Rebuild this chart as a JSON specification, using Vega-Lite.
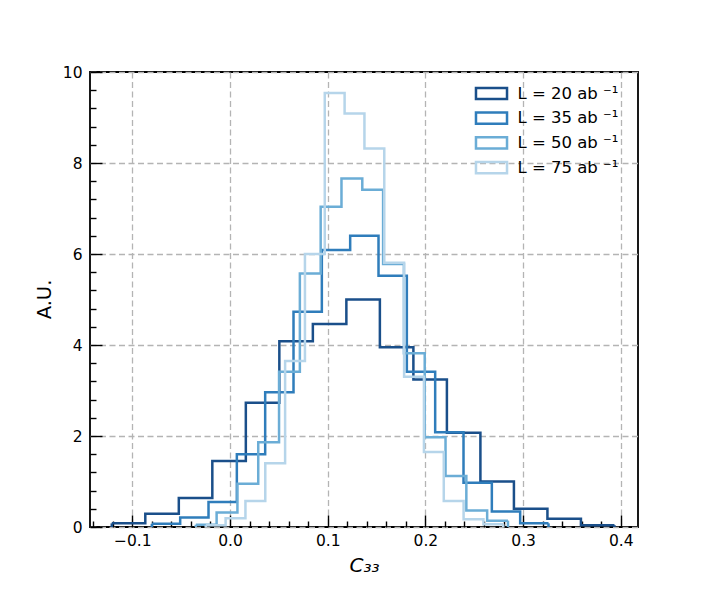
{
  "$schema": "https://vega.github.io/schema/vega-lite/v6.json",
  "width": 548,
  "height": 455,
  "autosize": {"type": "none"},
  "padding": {"left": 90, "top": 72, "right": 72, "bottom": 65},
  "config": {
    "font": "DejaVu Sans",
    "view": {"stroke": "black", "strokeWidth": 1.8},
    "axis": {
      "domain": false,
      "labelFont": "DejaVu Sans",
      "labelFontSize": 15.5,
      "labelColor": "black",
      "labelOverlap": false,
      "labelFlush": false,
      "tickColor": "black",
      "tickWidth": 1.4,
      "tickCount": 100,
      "gridColor": "#b4b4b4",
      "gridDash": [6, 3.5],
      "gridWidth": 1.3,
      "titleFont": "DejaVu Sans",
      "titleFontWeight": "normal",
      "titleColor": "black"
    }
  },
  "data": {
    "values": [
      {"L": "L = 20 ab ⁻¹", "start": -0.121, "end": -0.0867, "count": 0.08},
      {"L": "L = 20 ab ⁻¹", "start": -0.0867, "end": -0.0524, "count": 0.29},
      {"L": "L = 20 ab ⁻¹", "start": -0.0524, "end": -0.0181, "count": 0.64},
      {"L": "L = 20 ab ⁻¹", "start": -0.0181, "end": 0.0162, "count": 1.45},
      {"L": "L = 20 ab ⁻¹", "start": 0.0162, "end": 0.0505, "count": 2.73},
      {"L": "L = 20 ab ⁻¹", "start": 0.0505, "end": 0.0848, "count": 4.08},
      {"L": "L = 20 ab ⁻¹", "start": 0.0848, "end": 0.1191, "count": 4.46},
      {"L": "L = 20 ab ⁻¹", "start": 0.1191, "end": 0.1534, "count": 5.0},
      {"L": "L = 20 ab ⁻¹", "start": 0.1534, "end": 0.1877, "count": 3.95},
      {"L": "L = 20 ab ⁻¹", "start": 0.1877, "end": 0.222, "count": 3.24},
      {"L": "L = 20 ab ⁻¹", "start": 0.222, "end": 0.2563, "count": 2.07},
      {"L": "L = 20 ab ⁻¹", "start": 0.2563, "end": 0.2906, "count": 1.0},
      {"L": "L = 20 ab ⁻¹", "start": 0.2906, "end": 0.3249, "count": 0.4},
      {"L": "L = 20 ab ⁻¹", "start": 0.3249, "end": 0.3592, "count": 0.18},
      {"L": "L = 20 ab ⁻¹", "start": 0.3592, "end": 0.3935, "count": 0.04},
      {"L": "L = 35 ab ⁻¹", "start": -0.08, "end": -0.051, "count": 0.07},
      {"L": "L = 35 ab ⁻¹", "start": -0.051, "end": -0.022, "count": 0.21},
      {"L": "L = 35 ab ⁻¹", "start": -0.022, "end": 0.007, "count": 0.55},
      {"L": "L = 35 ab ⁻¹", "start": 0.007, "end": 0.036, "count": 1.6},
      {"L": "L = 35 ab ⁻¹", "start": 0.036, "end": 0.065, "count": 2.96},
      {"L": "L = 35 ab ⁻¹", "start": 0.065, "end": 0.094, "count": 4.73},
      {"L": "L = 35 ab ⁻¹", "start": 0.094, "end": 0.123, "count": 6.09},
      {"L": "L = 35 ab ⁻¹", "start": 0.123, "end": 0.152, "count": 6.4},
      {"L": "L = 35 ab ⁻¹", "start": 0.152, "end": 0.181, "count": 5.52},
      {"L": "L = 35 ab ⁻¹", "start": 0.181, "end": 0.21, "count": 3.41},
      {"L": "L = 35 ab ⁻¹", "start": 0.21, "end": 0.239, "count": 2.08},
      {"L": "L = 35 ab ⁻¹", "start": 0.239, "end": 0.268, "count": 0.97},
      {"L": "L = 35 ab ⁻¹", "start": 0.268, "end": 0.297, "count": 0.34},
      {"L": "L = 35 ab ⁻¹", "start": 0.297, "end": 0.326, "count": 0.08},
      {"L": "L = 50 ab ⁻¹", "start": -0.035, "end": -0.0137, "count": 0.05},
      {"L": "L = 50 ab ⁻¹", "start": -0.0137, "end": 0.0076, "count": 0.32},
      {"L": "L = 50 ab ⁻¹", "start": 0.0076, "end": 0.0289, "count": 0.95},
      {"L": "L = 50 ab ⁻¹", "start": 0.0289, "end": 0.0502, "count": 1.86},
      {"L": "L = 50 ab ⁻¹", "start": 0.0502, "end": 0.0715, "count": 3.41},
      {"L": "L = 50 ab ⁻¹", "start": 0.0715, "end": 0.0928, "count": 5.57},
      {"L": "L = 50 ab ⁻¹", "start": 0.0928, "end": 0.1141, "count": 7.04},
      {"L": "L = 50 ab ⁻¹", "start": 0.1141, "end": 0.1354, "count": 7.66},
      {"L": "L = 50 ab ⁻¹", "start": 0.1354, "end": 0.1567, "count": 7.41},
      {"L": "L = 50 ab ⁻¹", "start": 0.1567, "end": 0.178, "count": 5.78},
      {"L": "L = 50 ab ⁻¹", "start": 0.178, "end": 0.1993, "count": 3.82},
      {"L": "L = 50 ab ⁻¹", "start": 0.1993, "end": 0.2206, "count": 1.97},
      {"L": "L = 50 ab ⁻¹", "start": 0.2206, "end": 0.2419, "count": 1.12},
      {"L": "L = 50 ab ⁻¹", "start": 0.2419, "end": 0.2632, "count": 0.36},
      {"L": "L = 50 ab ⁻¹", "start": 0.2632, "end": 0.2845, "count": 0.14},
      {"L": "L = 75 ab ⁻¹", "start": -0.0248, "end": -0.0045, "count": 0.04},
      {"L": "L = 75 ab ⁻¹", "start": -0.0045, "end": 0.0158, "count": 0.19},
      {"L": "L = 75 ab ⁻¹", "start": 0.0158, "end": 0.0361, "count": 0.57},
      {"L": "L = 75 ab ⁻¹", "start": 0.0361, "end": 0.0564, "count": 1.4},
      {"L": "L = 75 ab ⁻¹", "start": 0.0564, "end": 0.0767, "count": 3.65},
      {"L": "L = 75 ab ⁻¹", "start": 0.0767, "end": 0.097, "count": 6.0},
      {"L": "L = 75 ab ⁻¹", "start": 0.097, "end": 0.1173, "count": 9.54},
      {"L": "L = 75 ab ⁻¹", "start": 0.1173, "end": 0.1376, "count": 9.09},
      {"L": "L = 75 ab ⁻¹", "start": 0.1376, "end": 0.1579, "count": 8.32},
      {"L": "L = 75 ab ⁻¹", "start": 0.1579, "end": 0.1782, "count": 5.81},
      {"L": "L = 75 ab ⁻¹", "start": 0.1782, "end": 0.1985, "count": 3.3},
      {"L": "L = 75 ab ⁻¹", "start": 0.1985, "end": 0.2188, "count": 1.65},
      {"L": "L = 75 ab ⁻¹", "start": 0.2188, "end": 0.2391, "count": 0.57},
      {"L": "L = 75 ab ⁻¹", "start": 0.2391, "end": 0.2594, "count": 0.17},
      {"L": "L = 75 ab ⁻¹", "start": 0.2594, "end": 0.2797, "count": 0.06}
    ]
  },
  "layer": [
    {
      "transform": [{"fold": ["start", "end"], "as": ["edge", "x"]}],
      "mark": {"type": "line", "strokeWidth": 2.5, "strokeJoin": "miter", "strokeCap": "butt"},
      "encoding": {
        "x": {
          "field": "x",
          "type": "quantitative",
          "title": "C₃₃",
          "scale": {"domain": [-0.1433, 0.4176], "nice": false, "zero": false},
          "axis": {
            "values": [-0.14, -0.12, -0.1, -0.08, -0.06, -0.04, -0.02, 0, 0.02, 0.04, 0.06, 0.08, 0.1, 0.12, 0.14, 0.16, 0.18, 0.2, 0.22, 0.24, 0.26, 0.28, 0.3, 0.32, 0.34, 0.36, 0.38, 0.4],
            "labelExpr": "abs(datum.value*10-round(datum.value*10))<1e-6 ? format(datum.value, '.1f') : ''",
            "tickSize": {"condition": {"test": "abs(datum.value*10-round(datum.value*10))<1e-6", "value": -12}, "value": -6},
            "gridOpacity": {"condition": {"test": "abs(datum.value*10-round(datum.value*10))<1e-6", "value": 1}, "value": 0},
            "labelPadding": 18,
            "titleFontStyle": "italic",
            "titleFontSize": 20,
            "titleY": 38,
            "titleBaseline": "middle"
          }
        },
        "y": {
          "field": "count",
          "type": "quantitative",
          "title": "A.U.",
          "scale": {"domain": [0, 10], "nice": false},
          "axis": {
            "values": [0, 0.4, 0.8, 1.2, 1.6, 2, 2.4, 2.8, 3.2, 3.6, 4, 4.4, 4.8, 5.2, 5.6, 6, 6.4, 6.8, 7.2, 7.6, 8, 8.4, 8.8, 9.2, 9.6, 10],
            "labelExpr": "abs(datum.value/2-round(datum.value/2))<1e-6 ? format(datum.value, 'd') : ''",
            "tickSize": {"condition": {"test": "abs(datum.value/2-round(datum.value/2))<1e-6", "value": -12}, "value": -6},
            "gridOpacity": {"condition": {"test": "abs(datum.value/2-round(datum.value/2))<1e-6", "value": 1}, "value": 0},
            "labelPadding": 20,
            "titleFontSize": 19.5,
            "titleX": -46,
            "titleY": 227,
            "titleBaseline": "middle"
          }
        },
        "color": {
          "field": "L",
          "type": "nominal",
          "scale": {
            "domain": ["L = 20 ab ⁻¹", "L = 35 ab ⁻¹", "L = 50 ab ⁻¹", "L = 75 ab ⁻¹"],
            "range": ["#1a4f8a", "#2f7dbb", "#6badd6", "#b6d5ea"]
          },
          "legend": {
            "title": null,
            "orient": "none",
            "legendX": 392,
            "legendY": 12,
            "padding": 0,
            "symbolType": "M-1.94,-0.7H1.94V0.7H-1.94Z",
            "symbolSize": 256,
            "symbolStrokeWidth": 2.5,
            "symbolFillColor": "transparent",
            "labelFontSize": 16.5,
            "labelColor": "black",
            "labelOffset": 16.5,
            "rowPadding": 1.7
          }
        },
        "order": [
          {"field": "x", "type": "quantitative"},
          {"field": "edge", "type": "ordinal"}
        ]
      }
    },
    {
      "transform": [
        {"window": [{"op": "row_number", "as": "first"}], "groupby": ["L"], "sort": [{"field": "start", "order": "ascending"}]},
        {"filter": "datum.first == 1"}
      ],
      "mark": {"type": "rule", "strokeWidth": 2.5},
      "encoding": {
        "x": {"field": "start", "type": "quantitative"},
        "y": {"field": "count", "type": "quantitative"},
        "y2": {"datum": 0},
        "color": {"field": "L", "type": "nominal", "legend": null}
      }
    },
    {
      "transform": [
        {"window": [{"op": "row_number", "as": "last"}], "groupby": ["L"], "sort": [{"field": "start", "order": "descending"}]},
        {"filter": "datum.last == 1"}
      ],
      "mark": {"type": "rule", "strokeWidth": 2.5},
      "encoding": {
        "x": {"field": "end", "type": "quantitative"},
        "y": {"field": "count", "type": "quantitative"},
        "y2": {"datum": 0},
        "color": {"field": "L", "type": "nominal", "legend": null}
      }
    }
  ]
}
